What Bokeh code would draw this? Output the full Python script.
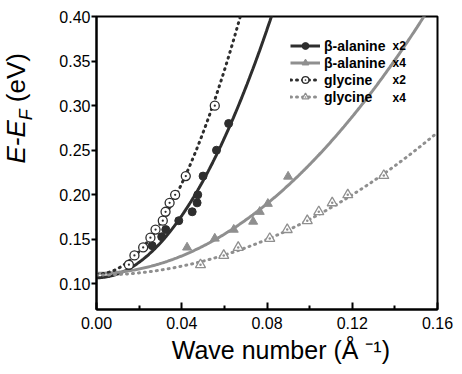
import numpy as np
from bokeh.plotting import figure
from bokeh.layouts import row
from bokeh.models import (FixedTicker, Legend, LegendItem, Label, Range1d, PrintfTickFormatter)
from bokeh.embed import file_html
from bokeh.resources import INLINE

# ---------------- data ----------------
ala2_k = [0.0261, 0.0306, 0.0325, 0.0386, 0.0449, 0.0472, 0.0475, 0.0500, 0.0563, 0.0620]
ala2_E = [0.143, 0.153, 0.161, 0.171, 0.181, 0.191, 0.200, 0.221, 0.250, 0.280]

ala4_k = [0.0425, 0.0555, 0.0644, 0.0735, 0.0766, 0.0804, 0.0899]
ala4_E = [0.141, 0.151, 0.161, 0.170, 0.181, 0.190, 0.2205]

gly2_k = [0.0152, 0.0178, 0.0219, 0.0253, 0.0277, 0.0311, 0.0324, 0.0343, 0.0369, 0.0419, 0.0555]
gly2_E = [0.1216, 0.132, 0.141, 0.152, 0.161, 0.171, 0.181, 0.191, 0.200, 0.221, 0.300]

gly4_k = [0.0488, 0.0597, 0.0665, 0.0813, 0.0895, 0.0989, 0.1043, 0.1106, 0.1179, 0.1348]
gly4_E = [0.1216, 0.132, 0.141, 0.151, 0.161, 0.171, 0.181, 0.191, 0.200, 0.2216]

# parabolic fits E = E0 + c*k^2 (parameters)
fit_E0 = {"ala2": 0.107, "ala4": 0.112, "gly2": 0.111, "gly4": 0.110}
fit_c = {"ala2": 43.5, "ala4": 12.2, "gly2": 63.5, "gly4": 6.25}

legend_names = ["β-alanine", "β-alanine", "glycine", "glycine"]
legend_factors = ["x2", "x4", "x2", "x4"]

x_ticks = [0.00, 0.04, 0.08, 0.12, 0.16]
x_minor = [0.02, 0.06, 0.10, 0.14]
y_ticks = [0.10, 0.15, 0.20, 0.25, 0.30, 0.35, 0.40]

DARK = "#2e2e2e"
GRAY = "#8f8f8f"
FONT = "Liberation Sans"
LEFT_W = 44

p = figure(width=454 - LEFT_W, height=366, output_backend="svg", toolbar_location=None,
           x_range=Range1d(0.0, 0.16), y_range=Range1d(0.0714, 0.40),
           min_border_left=96 - LEFT_W, min_border_right=17, min_border_top=16, min_border_bottom=52)
p.grid.visible = False
p.outline_line_color = "black"
p.outline_line_width = 2
p.background_fill_color = "white"
p.border_fill_color = "white"

kk = np.linspace(0, 0.16, 300)
def fit(name):
    return fit_E0[name] + fit_c[name] * kk ** 2

l1 = p.line(kk, fit("ala2"), line_color=DARK, line_width=3)
l2 = p.line(kk, fit("ala4"), line_color=GRAY, line_width=3)
l3 = p.line(kk, fit("gly2"), line_color=DARK, line_width=3, line_dash="1 5", line_cap="round")
l4 = p.line(kk, fit("gly4"), line_color=GRAY, line_width=3, line_dash="1 5", line_cap="round")

s1 = p.scatter(ala2_k, ala2_E, marker="circle", size=8, fill_color=DARK, line_color=DARK)
s2 = p.scatter(ala4_k, ala4_E, marker="triangle", size=9, fill_color=GRAY, line_color=GRAY)
s3 = p.scatter(gly2_k, gly2_E, marker="circle_dot", size=9, fill_color="white", line_color=DARK, line_width=1.3)
s4 = p.scatter(gly4_k, gly4_E, marker="triangle_dot", size=10, fill_color="white", line_color=GRAY, line_width=1.3)

rends = [[l1, s1], [l2, s2], [l3, s3], [l4, s4]]
legend = Legend(items=[LegendItem(label=n, renderers=r) for n, r in zip(legend_names, rends)],
                location=(194, 204), padding=0, margin=0, spacing=0,
                glyph_width=30, glyph_height=17, label_height=17, label_standoff=4,
                label_text_font=FONT, label_text_font_style="bold", label_text_font_size="14px",
                label_text_color="black", border_line_color=None, background_fill_alpha=0)
p.add_layout(legend)

# frame-relative screen coordinates: x from frame left, y from frame bottom
for txt, row_y in zip(legend_factors, [50, 67, 84.5, 102]):
    p.add_layout(Label(x=296, y=314 - row_y, x_units="screen", y_units="screen", text=txt,
                       text_font=FONT, text_font_style="bold", text_font_size="12px",
                       text_baseline="middle", text_color="black"))

# axes
p.xaxis.ticker = FixedTicker(ticks=x_ticks, minor_ticks=x_minor)
p.yaxis.ticker = FixedTicker(ticks=y_ticks)
p.xaxis.formatter = PrintfTickFormatter(format="%.2f")
p.yaxis.formatter = PrintfTickFormatter(format="%.2f")
for ax in (p.xaxis, p.yaxis):
    ax.axis_line_width = 2
    ax.axis_line_color = "black"
    ax.major_tick_line_width = 2
    ax.minor_tick_line_width = 2
    ax.major_tick_line_color = "black"
    ax.minor_tick_line_color = "black"
    ax.major_label_text_font = FONT
    ax.major_label_text_font_size = "16px"
    ax.major_label_text_color = "black"

p.xaxis.major_tick_in = 7
p.xaxis.major_tick_out = 0
p.xaxis.minor_tick_in = 4
p.xaxis.minor_tick_out = 0
p.xaxis.major_label_standoff = 7
p.xaxis.axis_label = "\u00a0\u00a0\u00a0\u00a0Wave number (Å ⁻¹)"
p.xaxis.axis_label_text_font = FONT
p.xaxis.axis_label_text_font_size = "25px"
p.xaxis.axis_label_text_font_style = "normal"
p.xaxis.axis_label_text_color = "black"
p.xaxis.axis_label_standoff = 4

p.yaxis.major_tick_in = 0
p.yaxis.major_tick_out = 5
p.yaxis.minor_tick_in = 0
p.yaxis.minor_tick_out = 0
p.yaxis.major_label_standoff = 1

# narrow left panel carrying the y-axis title (italic E-E with subscript F)
q = figure(width=LEFT_W, height=366, output_backend="svg", toolbar_location=None,
           x_range=Range1d(0, 1), y_range=Range1d(0, 1),
           x_axis_location=None, y_axis_location=None,
           min_border_left=0, min_border_right=0, min_border_top=0, min_border_bottom=0)
q.outline_line_color = None
q.grid.visible = False
q.border_fill_color = "white"
q.background_fill_color = "white"
q.add_layout(Label(x=30, y=146, x_units="screen", y_units="screen", text="E-E", angle=np.pi / 2,
                   text_font=FONT, text_font_style="italic", text_font_size="26px", text_color="black"))
q.add_layout(Label(x=35, y=189.3, x_units="screen", y_units="screen", text="F", angle=np.pi / 2,
                   text_font=FONT, text_font_style="italic", text_font_size="18px", text_color="black"))
q.add_layout(Label(x=30, y=207.3, x_units="screen", y_units="screen", text="(eV)", angle=np.pi / 2,
                   text_font=FONT, text_font_size="26px", text_color="black"))

layout = row(q, p, spacing=0)
open("out.html", "w").write(file_html(layout, INLINE))
